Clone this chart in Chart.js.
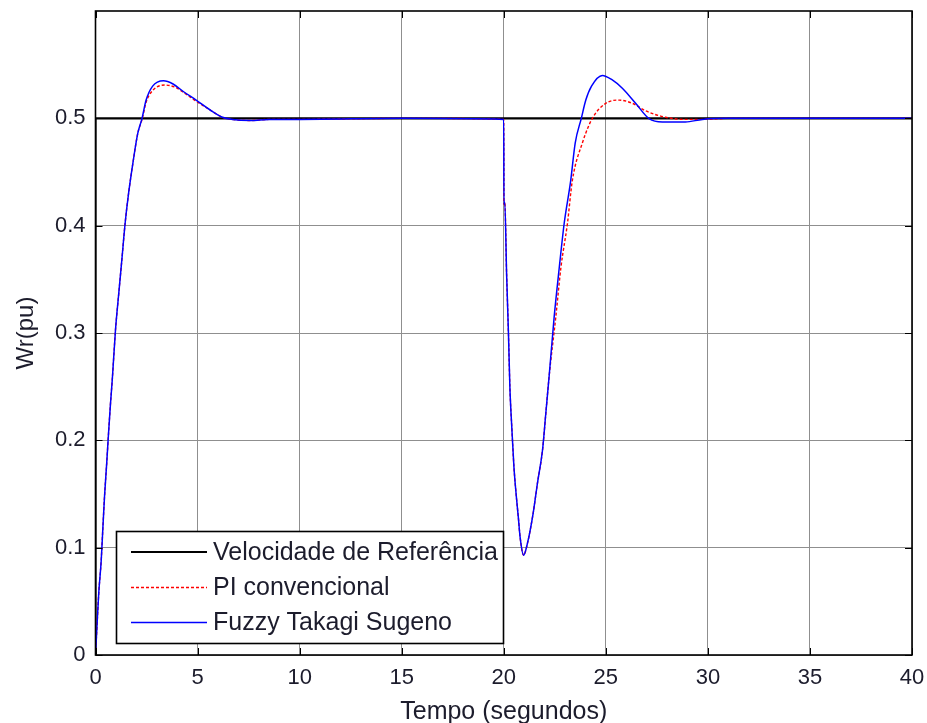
<!DOCTYPE html>
<html><head><meta charset="utf-8">
<script src="https://cdn.jsdelivr.net/npm/chart.js@4/dist/chart.umd.min.js"></script>
<style>html,body{margin:0;padding:0;background:#fff}#wrap{width:927px;height:723px;position:relative}</style>
</head><body><div id="wrap"><canvas id="c" width="927" height="723"></canvas></div>
<script>
// ---- data ----
const xTickValues = [0, 5, 10, 15, 20, 25, 30, 35, 40];
const yTickValues = [0, 0.1, 0.2, 0.3, 0.4, 0.5];
const yTickLabels = ['0', '0.1', '0.2', '0.3', '0.4', '0.5'];
const seriesNames = ['Velocidade de Referência', 'PI convencional', 'Fuzzy Takagi Sugeno'];
const xTitle = 'Tempo (segundos)';
const yTitle = 'Wr(pu)';

const tRef = [0, 0, 40];
const vRef = [0, 0.5, 0.5];

const tFuzzy = [0, 0.07, 0.16, 0.28, 0.36, 0.44, 0.55, 0.64, 0.73, 0.82, 0.98, 1.14, 1.29, 1.45, 1.62, 1.83, 2.07, 2.28, 2.48, 2.8, 3.33, 3.8, 4.3, 4.93, 5.6, 6.22, 6.7, 7.6, 8.5, 10, 15, 20,
  20.01, 20.05, 20.14, 20.23, 20.30, 20.4, 20.5, 20.62, 20.72, 20.8, 20.97, 21.16, 21.44, 21.65, 21.9, 22.06, 22.22, 22.47, 22.72, 22.96, 23.28, 23.5, 23.8, 24.02, 24.3, 24.83, 25.3, 25.81, 26.46, 27.12, 27.77, 28.9, 29.73, 31, 40];
const vFuzzy = [0, 0.026, 0.058, 0.088, 0.118, 0.147, 0.179, 0.207, 0.233, 0.256, 0.303, 0.337, 0.368, 0.402, 0.430, 0.458, 0.486, 0.5, 0.517, 0.530, 0.535, 0.532, 0.525, 0.517, 0.508, 0.501, 0.499, 0.498, 0.499, 0.499, 0.5, 0.499,
  0.42, 0.422, 0.355, 0.3, 0.25, 0.21, 0.175, 0.147, 0.127, 0.11, 0.093, 0.104, 0.132, 0.16, 0.191, 0.225, 0.259, 0.315, 0.361, 0.402, 0.442, 0.477, 0.5, 0.517, 0.530, 0.540, 0.536, 0.528, 0.514, 0.4997, 0.4966, 0.4966, 0.499, 0.5, 0.5];

const tPI = [0, 0.07, 0.16, 0.28, 0.36, 0.44, 0.55, 0.64, 0.73, 0.82, 0.98, 1.14, 1.29, 1.45, 1.62, 1.83, 2.07, 2.28, 2.48, 2.8, 3.4, 3.9, 4.4, 4.93, 5.6, 6.22, 6.7, 7.6, 8.5, 10, 15, 20,
  20.01, 20.05, 20.14, 20.23, 20.30, 20.4, 20.5, 20.62, 20.72, 20.8, 20.97, 21.16, 21.44, 21.65, 21.9, 22.06, 22.22, 22.55, 22.8, 23.12, 23.36, 23.85, 24.34, 25.0, 25.65, 26.3, 26.95, 27.93, 28.9, 29.9, 31, 40];
const vPI = [0, 0.026, 0.058, 0.088, 0.118, 0.147, 0.179, 0.207, 0.233, 0.256, 0.303, 0.337, 0.368, 0.402, 0.430, 0.458, 0.486, 0.499, 0.515, 0.526, 0.531, 0.529, 0.523, 0.516, 0.508, 0.501, 0.499, 0.498, 0.499, 0.499, 0.5, 0.499,
  0.42, 0.422, 0.355, 0.3, 0.25, 0.21, 0.175, 0.147, 0.127, 0.11, 0.093, 0.104, 0.132, 0.16, 0.191, 0.225, 0.259, 0.315, 0.361, 0.402, 0.442, 0.477, 0.5, 0.514, 0.517, 0.514, 0.507, 0.501, 0.499, 0.499, 0.5, 0.5];

const toXY = (t, v) => t.map((x, i) => ({x: x, y: v[i]}));
const FONT = "'Liberation Sans', Arial, sans-serif";
const TXT = '#1c1c2c';

const boxPlugin = {
  id: 'box',
  afterDatasetsDraw(chart) {
    const {ctx, chartArea: a, scales} = chart;
    ctx.save();
    // inward ticks
    ctx.strokeStyle = '#000'; ctx.lineWidth = 1;
    const tl = 7;
    ctx.beginPath();
    xTickValues.forEach(v => {
      const px = Math.round(scales.x.getPixelForValue(v)) + 0.5;
      ctx.moveTo(px, a.bottom); ctx.lineTo(px, a.bottom - tl);
      ctx.moveTo(px, a.top); ctx.lineTo(px, a.top + tl);
    });
    yTickValues.forEach(v => {
      const py = Math.round(scales.y.getPixelForValue(v)) + 0.5;
      ctx.moveTo(a.left, py); ctx.lineTo(a.left + tl, py);
      ctx.moveTo(a.right, py); ctx.lineTo(a.right - tl, py);
    });
    ctx.stroke();
    // axes box
    ctx.lineWidth = 1.6;
    ctx.strokeRect(a.left, a.top, a.right - a.left, a.bottom - a.top);
    // legend
    const lx = 116.5, ly = 531.5, lw = 387, lh = 112;
    ctx.fillStyle = '#fff';
    ctx.fillRect(lx, ly, lw, lh);
    ctx.lineWidth = 1.6;
    ctx.strokeStyle = '#000';
    ctx.strokeRect(lx, ly, lw, lh);
    const rows = [552, 587.5, 622.5];
    chart.data.datasets.slice().sort((p, q) => p.legendIndex - q.legendIndex).forEach((ds, i) => {
      const y = rows[i];
      ctx.beginPath();
      ctx.strokeStyle = ds.borderColor;
      ctx.lineWidth = ds.borderWidth;
      ctx.setLineDash(ds.borderDash || []);
      ctx.moveTo(131, y); ctx.lineTo(207, y);
      ctx.stroke();
      ctx.setLineDash([]);
      ctx.fillStyle = TXT;
      ctx.font = '25px ' + FONT;
      ctx.textBaseline = 'middle';
      ctx.textAlign = 'left';
      ctx.fillText(ds.label, 213, y + 1);
    });
    ctx.restore();
  }
};

new Chart(document.getElementById('c'), {
  type: 'scatter',
  data: {
    datasets: [
      {label: seriesNames[2], legendIndex: 2, data: toXY(tFuzzy, vFuzzy), showLine: true, cubicInterpolationMode: 'monotone', borderColor: '#0000ff', borderWidth: 1.5, pointRadius: 0, order: 0},
      {label: seriesNames[1], legendIndex: 1, data: toXY(tPI, vPI), showLine: true, cubicInterpolationMode: 'monotone', borderColor: '#ff0000', borderWidth: 1.4, borderDash: [3, 2], pointRadius: 0, order: 1},
      {label: seriesNames[0], legendIndex: 0, data: toXY(tRef, vRef), showLine: true, borderColor: '#000000', borderWidth: 2.2, pointRadius: 0, order: 2}
    ]
  },
  options: {
    responsive: false,
    animation: false,
    layout: {padding: {left: 0, top: 11, right: 15, bottom: 0}},
    plugins: {legend: {display: false}, tooltip: {enabled: false}},
    scales: {
      x: {
        type: 'linear', min: 0, max: 40,
        afterBuildTicks: s => { s.ticks = xTickValues.map(v => ({value: v})); },
        afterFit: s => { s.height = 68; s.paddingLeft = 0; s.paddingRight = 0; },
        grid: {color: '#8f8f8f', lineWidth: 1, drawTicks: false},
        border: {display: false},
        ticks: {padding: 10, color: TXT, font: {family: FONT, size: 22}, callback: v => String(v)},
        title: {display: true, text: xTitle, color: TXT, font: {family: FONT, size: 25}, padding: {top: 0, bottom: -4}}
      },
      y: {
        type: 'linear', min: 0, max: 0.6,
        afterBuildTicks: s => { s.ticks = yTickValues.map(v => ({value: v})); },
        afterFit: s => { s.width = 95.5; s.paddingTop = 0; s.paddingBottom = 0; },
        grid: {color: '#8f8f8f', lineWidth: 1, drawTicks: false},
        border: {display: false},
        ticks: {padding: 10, color: TXT, font: {family: FONT, size: 22}, callback: (v, i) => yTickLabels[i]},
        title: {display: true, text: yTitle, color: TXT, font: {family: FONT, size: 24}, padding: {top: 12, bottom: 0}}
      }
    }
  },
  plugins: [boxPlugin]
});
</script>
</body></html>
